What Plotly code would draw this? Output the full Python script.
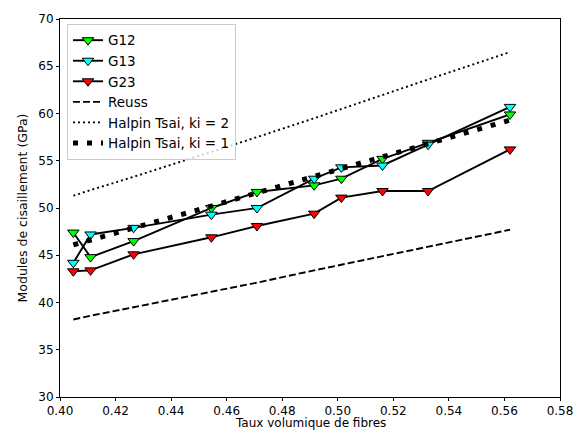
import plotly.graph_objects as go

vf = [0.4048, 0.4110, 0.4265, 0.4545, 0.4709, 0.4915, 0.5013, 0.5161, 0.5325, 0.5620]
g12 = [47.4, 44.8, 46.5, 50.0, 51.7, 52.4, 53.1, 55.2, 56.9, 59.9]
g13 = [44.2, 47.2, 47.9, 49.3, 50.0, 53.1, 54.3, 54.5, 56.7, 60.7]
g23 = [43.3, 43.4, 45.1, 46.9, 48.1, 49.4, 51.1, 51.8, 51.8, 56.2]
reuss = [38.2, 38.6, 39.5, 41.1, 42.1, 43.4, 44.0, 44.9, 45.9, 47.7]
ht_ki2 = [51.3, 51.9, 53.3, 55.9, 57.5, 59.5, 60.5, 62.0, 63.6, 66.5]
ht_ki1 = [46.1, 46.6, 47.9, 50.2, 51.6, 53.3, 54.1, 55.4, 56.8, 59.3]

xticks = [0.40, 0.42, 0.44, 0.46, 0.48, 0.50, 0.52, 0.54, 0.56, 0.58]
yticks = [30, 35, 40, 45, 50, 55, 60, 65, 70]

FONT = "DejaVu Sans"

fig = go.Figure()

def meas(name, y, color):
    fig.add_trace(go.Scatter(
        x=vf, y=y, name=name, mode="lines+markers",
        line=dict(color="black", width=1.9),
        marker=dict(symbol="triangle-down", size=10, color=color,
                    line=dict(color="black", width=1)),
    ))

meas("G12", g12, "#00ff00")
meas("G13", g13, "#00ffff")
meas("G23", g23, "#ff0000")

fig.add_trace(go.Scatter(x=vf, y=reuss, name="Reuss", mode="lines",
                         line=dict(color="black", width=1.9, dash="7px,3px")))
fig.add_trace(go.Scatter(x=vf, y=ht_ki2, name="Halpin Tsai, ki = 2", mode="lines",
                         line=dict(color="black", width=1.9, dash="2px,3px")))
fig.add_trace(go.Scatter(x=vf, y=ht_ki1, name="Halpin Tsai, ki = 1", mode="lines",
                         line=dict(color="black", width=5, dash="5px,9px")))

axis_common = dict(
    showline=True, linecolor="black", linewidth=1, mirror=True,
    ticks="outside", ticklen=3, tickwidth=1, tickcolor="black",
    showgrid=False, zeroline=False, automargin=False,
    tickfont=dict(family=FONT, size=12, color="black"),
)

fig.update_layout(
    width=576, height=430,
    margin=dict(l=60, r=16, t=19, b=33),
    paper_bgcolor="white", plot_bgcolor="white",
    font=dict(family=FONT, size=12, color="black"),
    xaxis=dict(range=[0.40, 0.58], tickvals=xticks,
               ticktext=[f"{v:.2f}" for v in xticks],
               **axis_common),
    yaxis=dict(range=[30, 70], tickvals=yticks,
               ticktext=[str(v) for v in yticks],
               title=dict(text="Modules de cisaillement (GPa)", standoff=7,
                          font=dict(family=FONT, size=12.5)),
               **axis_common),
    legend=dict(x=0.014, y=0.987, xanchor="left", yanchor="top",
                bgcolor="rgba(255,255,255,0.8)", bordercolor="#cccccc", borderwidth=1,
                font=dict(family=FONT, size=13.5, color="black"),
                tracegroupgap=0),
    showlegend=True,
    annotations=[dict(text="Taux volumique de fibres", x=0.5, y=0,
                      xref="paper", yref="paper", xanchor="center", yanchor="middle",
                      yshift=-26, showarrow=False,
                      font=dict(family=FONT, size=12, color="black"))],
)

fig.write_html("out.html", config={"displayModeBar": False},
               post_script="document.body.style.margin='0';document.body.style.overflow='hidden';")
